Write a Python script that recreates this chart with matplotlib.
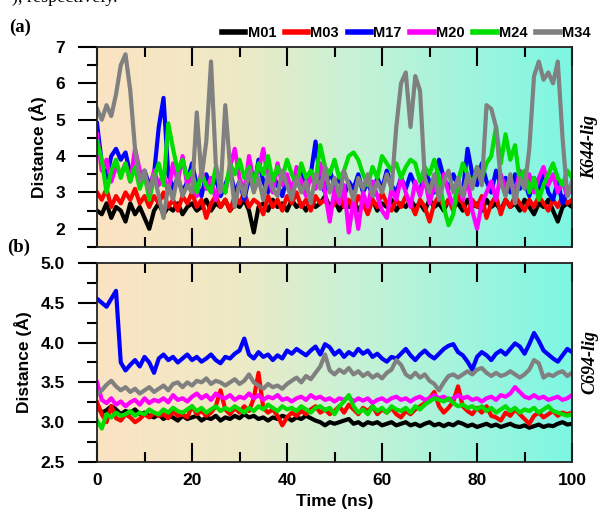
import numpy as np
import matplotlib.pyplot as plt
from matplotlib.colors import LinearSegmentedColormap
from matplotlib.ticker import MultipleLocator

# time axis, 1 ns steps
time_ns = np.arange(0, 101, 1)

names = ["M01", "M03", "M17", "M20", "M24", "M34"]
colors = ["#000000", "#ff0000", "#0000ff", "#ff00ff", "#00dd00", "#808080"]

# ---- panel (a): K644-lig ----
k644_m01 = [2.5, 2.4, 2.7, 2.3, 2.6, 2.5, 2.2, 2.7, 2.4, 2.6, 2.3, 2.0, 2.5, 2.7, 2.4, 2.6, 2.5, 2.7, 2.4, 2.6,
            2.7, 2.5, 2.6, 2.8, 2.5, 2.7, 2.6, 2.8, 2.5, 2.7, 2.6, 2.8, 2.5, 1.9, 2.6, 2.7, 2.5, 2.8, 2.6, 2.7,
            2.5, 2.8, 2.6, 2.7, 2.5, 2.8, 2.6, 2.7, 2.9, 2.6, 2.8, 2.5, 2.7, 2.6, 2.8, 2.5, 2.7, 2.6, 2.8, 2.5,
            2.7, 2.6, 2.8, 2.5, 2.7, 2.6, 2.8, 2.6, 2.7, 2.5, 2.8, 2.6, 2.7, 2.5, 2.8, 2.6, 2.7, 2.5, 2.8, 2.6,
            2.7, 2.5, 2.8, 2.6, 2.7, 2.5, 2.8, 2.6, 2.7, 2.5, 2.8, 2.6, 2.4, 2.7, 2.6, 2.8, 2.5, 2.2, 2.6, 2.7, 2.6]
k644_m03 = [3.0, 2.8, 3.1, 2.6, 2.9, 2.7, 3.0, 2.8, 3.1, 2.7, 2.9, 2.6, 2.9, 2.7, 3.0, 2.6, 2.8, 2.5, 2.9, 2.7,
            3.0, 2.6, 2.8, 2.3, 2.7, 2.9, 2.6, 2.8, 2.5, 2.9, 2.7, 3.0, 2.6, 2.8, 2.7, 2.4, 2.9, 2.6, 2.8, 2.5,
            2.9, 2.7, 3.0, 2.6, 2.8, 2.5, 2.9, 2.7, 2.8, 2.5, 2.7, 3.0, 2.6, 2.8, 2.5, 2.9, 2.7, 2.4, 2.8, 2.6,
            3.0, 2.7, 2.5, 2.8, 2.6, 2.9, 2.7, 2.4, 2.8, 2.6, 2.2, 2.7, 2.9, 2.6, 2.8, 2.5, 2.9, 2.7, 2.4, 2.8,
            2.6, 2.9, 2.3, 2.7, 2.9, 2.4, 2.8, 2.6, 2.9, 2.7, 2.5, 2.8, 2.6, 2.9, 2.7, 2.5, 2.8, 2.6, 2.9, 2.7, 2.8]
k644_m17 = [4.9, 3.8, 3.4, 4.0, 4.2, 3.9, 4.1, 3.5, 3.7, 3.3, 3.6, 3.2, 3.5, 4.8, 5.6, 3.5, 3.1, 3.4, 3.0, 3.3,
            3.8, 3.2, 2.9, 3.5, 3.1, 3.4, 2.9, 3.2, 3.6, 3.0, 3.3, 2.8, 3.4, 3.1, 3.9, 3.3, 3.0, 3.5, 3.2, 2.9,
            3.4, 3.0, 3.3, 3.7, 3.1, 3.5, 4.4, 3.3, 3.0, 3.6, 3.2, 3.4, 2.9, 3.3, 3.1, 3.5, 3.0, 3.3, 2.9, 3.4,
            3.1, 3.6, 3.2, 3.0, 3.4, 3.1, 3.5, 3.2, 3.0, 3.6, 3.3, 3.0, 3.9, 3.4, 3.1, 3.5, 3.2, 3.0, 4.2, 3.5,
            3.2, 3.8, 3.3, 3.0, 3.6, 3.2, 3.4, 3.0, 3.5, 3.1, 3.3, 2.9, 3.4, 3.1, 3.6, 3.0, 2.8, 3.3, 2.7, 3.0, 3.2]
k644_m20 = [4.6, 3.6, 3.9, 3.3, 3.7, 3.5, 3.8, 3.3, 4.2, 3.6, 3.4, 3.0, 3.6, 3.2, 3.5, 3.0, 3.8, 3.3, 4.0, 3.2,
            3.5, 2.9, 3.6, 3.1, 3.4, 2.8, 3.3, 3.0, 3.7, 4.2, 3.4, 3.0, 4.0, 3.3, 3.6, 4.2, 3.4, 3.0, 3.8, 3.2,
            3.5, 3.0, 3.7, 3.3, 2.9, 3.5, 3.1, 3.8, 3.0, 2.2, 3.1, 2.7, 3.2, 1.9, 2.8, 2.0, 3.0, 2.6, 3.3, 2.9,
            2.5, 2.3, 3.1, 2.8, 3.4, 3.0, 2.6, 3.3, 2.9, 3.4, 2.7, 3.2, 2.9, 3.5, 3.0, 2.6, 3.2, 2.8, 3.4, 2.5,
            2.0, 2.7, 3.0, 3.3, 2.8, 3.5, 3.1, 3.4, 2.9, 3.6, 3.2, 3.5, 3.0, 3.4, 3.7, 3.2, 3.5, 3.0, 3.3, 2.9, 3.2]
k644_m24 = [4.4, 3.9, 3.0, 3.6, 3.9, 3.4, 3.8, 3.3, 3.7, 3.1, 3.5, 2.8, 3.4, 3.8, 3.2, 4.9, 4.2, 3.6, 3.9, 3.4,
            3.6, 3.0, 3.5, 3.2, 3.0, 3.7, 3.3, 3.0, 3.8, 3.5, 3.9, 3.4, 3.7, 3.2, 3.8, 3.5, 4.0, 3.3, 3.7, 3.4,
            3.9, 3.5, 3.2, 3.8, 3.4, 3.6, 3.3, 4.3, 3.7, 3.5, 3.9, 3.4, 3.6, 4.0, 4.1, 3.9, 3.5, 3.2, 3.7, 3.4,
            4.0, 3.8, 3.6, 3.8, 3.4, 3.7, 3.9, 3.8, 3.3, 3.7, 3.5, 3.9, 3.4, 2.6, 2.1, 2.4, 3.3, 3.8, 3.5, 3.2,
            3.7, 3.4, 3.8, 4.0, 4.8, 3.8, 4.6, 3.9, 4.3, 3.3, 3.6, 3.0, 3.4, 2.8, 3.2, 3.5, 3.8, 3.4, 3.2, 3.6, 3.4]
k644_m34 = [5.3, 5.0, 5.4, 5.1, 5.7, 6.5, 6.8, 5.8, 4.2, 3.3, 3.6, 3.0, 3.5, 2.9, 2.3, 3.2, 2.8, 3.5, 2.9, 3.2,
            3.0, 5.2, 3.4, 4.4, 6.6, 3.8, 3.0, 5.4, 3.7, 2.6, 3.3, 2.9, 3.6, 3.0, 3.4, 2.8, 3.5, 3.1, 2.9, 3.6,
            3.2, 2.8, 3.4, 3.0, 3.3, 2.7, 3.5, 3.1, 3.7, 3.0, 3.4, 2.9, 3.6, 3.2, 2.8, 3.4, 3.1, 3.5, 2.9, 3.3,
            3.0, 3.5, 3.1, 4.8, 6.0, 6.3, 4.8, 6.2, 5.8, 3.4, 3.0, 3.5, 2.8, 3.3, 3.6, 3.0, 3.4, 2.9, 3.5, 3.1,
            3.7, 3.2, 5.4, 5.3, 4.8, 3.3, 2.9, 3.5, 2.7, 3.4, 3.1, 4.2, 6.2, 6.6, 6.1, 6.3, 6.0, 6.6, 4.5, 2.9, 3.3]

# ---- panel (b): C694-lig ----
c694_m01 = [3.2, 3.12, 3.15, 3.2, 3.16, 3.1, 3.14, 3.12, 3.16, 3.1, 3.12, 3.08, 3.06, 3.1, 3.04, 3.08, 3.06, 3.02, 3.08, 3.04,
            3.06, 3.08, 3.02, 3.06, 3.04, 3.08, 3.02, 3.06, 3.04, 3.08, 3.05, 3.1, 3.06, 3.08, 3.04, 3.06, 3.02, 3.06, 3.04, 3.08,
            3.06, 3.02, 3.06, 3.04, 3.08, 3.05, 3.02, 3.0, 2.96, 3.0, 2.98, 3.0, 3.02, 3.04, 2.98, 3.0, 2.96, 3.0, 2.98, 3.0,
            2.96, 2.98, 3.0, 2.96, 2.98, 3.0, 2.96, 2.98, 2.95, 2.98, 3.0, 2.96, 2.98, 2.95, 2.98, 2.96, 3.0, 2.98, 2.95, 2.97,
            2.94, 2.96, 2.98, 2.95, 2.97, 2.94, 2.96, 2.98, 2.95, 2.94, 2.96, 2.93, 2.95, 2.97, 2.94, 2.96, 2.95, 2.98, 3.0, 2.97, 2.98]
c694_m03 = [3.25, 3.1, 3.0, 3.2, 3.05, 3.02, 3.1, 3.06, 3.0, 3.04, 3.1, 3.06, 3.12, 3.08, 3.1, 3.05, 3.14, 3.08, 3.1, 3.06,
            3.2, 3.1, 3.14, 3.08, 3.12, 3.2, 3.4, 3.16, 3.1, 3.18, 3.12, 3.2, 3.14, 3.3, 3.62, 3.18, 3.12, 3.16, 3.08, 2.96,
            3.06, 3.12, 3.08, 3.14, 3.1, 3.16, 3.2, 3.12, 3.16, 3.1, 3.14, 3.2, 3.12, 3.22, 3.16, 3.1, 3.18, 3.14, 3.2, 3.1,
            3.16, 3.12, 3.18, 3.1, 3.06, 3.14, 3.1, 3.16, 3.2, 3.24, 3.3, 3.38, 3.2, 3.12, 3.18, 3.26, 3.45, 3.2, 3.14, 3.1,
            3.18, 3.12, 3.2, 3.08, 3.06, 3.02, 3.12, 3.08, 3.16, 3.1, 3.04, 2.98, 3.08, 3.12, 3.06, 3.1, 3.14, 3.08, 3.12, 3.1, 3.12]
c694_m17 = [4.55, 4.5, 4.45, 4.55, 4.65, 3.75, 3.65, 3.72, 3.78, 3.7, 3.82, 3.75, 3.62, 3.8, 3.85, 3.78, 3.82, 3.75, 3.8, 3.85,
            3.78, 3.82, 3.76, 3.8, 3.85, 3.78, 3.74, 3.82, 3.8, 3.86, 3.9, 4.05, 3.85, 3.8, 3.88, 3.82, 3.85, 3.78, 3.84, 3.8,
            3.9, 3.86, 3.92, 3.88, 3.84, 3.9, 3.95, 3.85, 3.98, 3.94, 3.85, 3.9, 3.82, 3.88, 3.84, 3.92, 3.86, 3.9, 3.82, 3.86,
            3.8, 3.76, 3.82, 3.8, 3.86, 3.92, 3.84, 3.78, 3.85, 3.9, 3.84, 3.8, 3.86, 3.92, 3.96, 3.98, 3.88, 3.84, 3.76, 3.66,
            3.82, 3.88, 3.84, 3.78, 3.86, 3.9, 3.85, 3.92, 3.99, 3.95, 3.86, 3.98, 4.12, 4.02, 3.9, 3.85, 3.8, 3.76, 3.84, 3.92, 3.88]
c694_m20 = [3.5, 3.28, 3.24, 3.3, 3.22, 3.26, 3.2, 3.25, 3.28, 3.22, 3.3, 3.24, 3.28, 3.26, 3.3, 3.25, 3.34, 3.28, 3.3, 3.26,
            3.32, 3.36, 3.3, 3.34, 3.28, 3.36, 3.32, 3.3, 3.34, 3.28, 3.32, 3.3, 3.36, 3.3, 3.34, 3.28, 3.32, 3.3, 3.34, 3.28,
            3.3, 3.26, 3.3, 3.32, 3.28, 3.34, 3.3, 3.32, 3.28, 3.3, 3.26, 3.3, 3.28, 3.32, 3.26, 3.3, 3.27, 3.3, 3.24, 3.28,
            3.3, 3.26, 3.3, 3.32, 3.28, 3.3, 3.26, 3.3, 3.32, 3.28, 3.3, 3.34, 3.3, 3.32, 3.28, 3.3, 3.34, 3.3, 3.32, 3.28,
            3.3, 3.26, 3.3, 3.32, 3.28, 3.34, 3.32, 3.36, 3.44, 3.38, 3.32, 3.3, 3.34, 3.3, 3.32, 3.28, 3.3, 3.32, 3.28, 3.3, 3.34]
c694_m24 = [3.02, 2.92, 3.1, 3.06, 3.12, 3.08, 3.1, 3.14, 3.08, 3.12, 3.1, 3.16, 3.12, 3.1, 3.16, 3.12, 3.18, 3.14, 3.12, 3.16,
            3.2, 3.14, 3.18, 3.12, 3.16, 3.2, 3.14, 3.18, 3.15, 3.2, 3.16, 3.12, 3.18, 3.14, 3.2, 3.16, 3.22, 3.18, 3.14, 3.2,
            3.16, 3.18, 3.14, 3.2, 3.16, 3.12, 3.18, 3.2, 3.15, 3.18, 3.1, 3.2, 3.26, 3.34, 3.2, 3.12, 3.16, 3.1, 3.2, 3.14,
            3.18, 3.12, 3.2, 3.16, 3.14, 3.18, 3.12, 3.2, 3.16, 3.22, 3.26, 3.3, 3.28, 3.26, 3.3, 3.24, 3.2, 3.22, 3.18, 3.2,
            3.16, 3.2, 3.14, 3.18, 3.12, 3.16, 3.2, 3.14, 3.18, 3.12, 3.16, 3.14, 3.18, 3.12, 3.16, 3.2, 3.14, 3.12, 3.1, 3.08, 3.1]
c694_m34 = [3.35, 3.4, 3.47, 3.52, 3.45, 3.4, 3.44, 3.38, 3.42, 3.36, 3.4, 3.44, 3.38, 3.42, 3.46, 3.4, 3.48, 3.5, 3.44, 3.5,
            3.46, 3.52, 3.5, 3.55, 3.48, 3.52, 3.5, 3.46, 3.5, 3.54, 3.48, 3.52, 3.6, 3.5, 3.46, 3.42, 3.48, 3.44, 3.46, 3.42,
            3.48, 3.52, 3.56, 3.5, 3.58, 3.54, 3.62, 3.7, 3.85, 3.65, 3.6, 3.66, 3.62, 3.68, 3.6, 3.64, 3.58, 3.62, 3.56, 3.6,
            3.55, 3.62, 3.66, 3.78, 3.72, 3.6, 3.56, 3.62, 3.56, 3.6, 3.52, 3.48, 3.4, 3.5, 3.58, 3.6, 3.56, 3.6, 3.64, 3.6,
            3.66, 3.68, 3.62, 3.58, 3.62, 3.58, 3.6, 3.64, 3.6, 3.56, 3.6, 3.66, 3.78, 3.74, 3.56, 3.6, 3.58, 3.62, 3.64, 3.58, 3.62]

panel_a = [k644_m01, k644_m03, k644_m17, k644_m20, k644_m24, k644_m34]
panel_b = [c694_m01, c694_m03, c694_m17, c694_m20, c694_m24, c694_m34]

bg = LinearSegmentedColormap.from_list(
    "bg", [(0.0, "#fbe3c2"), (0.3, "#eeeac6"), (0.55, "#c6f2d6"), (1.0, "#7cf7e3")])

fig = plt.figure(figsize=(6, 5.12), dpi=100)
ax_a = fig.add_axes([0.1617, 0.5176, 0.7917, 0.3906])
ax_b = fig.add_axes([0.1617, 0.0977, 0.7917, 0.3887])

tick_font = dict(family="Liberation Sans", weight="bold", size=12.5)


def style_axis(ax, ylim, major, minor, show_xlabels):
    ax.imshow(np.linspace(0, 1, 256)[None, :], aspect="auto", cmap=bg,
              extent=[0, 100, ylim[0], ylim[1]], zorder=0)
    ax.set_xlim(0, 100)
    ax.set_ylim(*ylim)
    ax.xaxis.set_major_locator(MultipleLocator(20))
    ax.xaxis.set_minor_locator(MultipleLocator(10))
    ax.yaxis.set_major_locator(MultipleLocator(major))
    ax.yaxis.set_minor_locator(MultipleLocator(minor))
    ax.tick_params(axis="x", which="both", direction="in", top=True, bottom=True,
                   width=1.5, color="black")
    ax.tick_params(axis="x", which="major", length=14)
    ax.tick_params(axis="x", which="minor", length=7)
    ax.tick_params(axis="y", which="both", direction="out", left=True, right=False,
                   width=1.5, color="black", pad=9)
    ax.tick_params(axis="y", which="major", length=14)
    ax.tick_params(axis="y", which="minor", length=7)
    for sp in ax.spines.values():
        sp.set_linewidth(1.3)
        sp.set_color("#222222")
    if show_xlabels:
        ax.tick_params(axis="x", which="major", pad=8)
    else:
        ax.tick_params(axis="x", which="both", labelbottom=False)
    ax.set_ylabel("Distance (Å)", fontfamily="Liberation Sans", fontweight="bold",
                  fontsize=12.5, labelpad=6)


lines = []
for vals, name, c in zip(panel_a, names, colors):
    ln, = ax_a.plot(time_ns, vals, color=c, lw=3.0, label=name, solid_joinstyle="round")
    lines.append(ln)
for vals, name, c in zip(panel_b, names, colors):
    ax_b.plot(time_ns, vals, color=c, lw=3.0, solid_joinstyle="round")

style_axis(ax_a, (1.5, 7.0), 1, 0.5, False)
ax_a.yaxis.set_major_locator(MultipleLocator(1, offset=0))
ax_a.set_yticks([2, 3, 4, 5, 6, 7])
style_axis(ax_b, (2.5, 5.0), 0.5, 0.25, True)
ax_b.yaxis.set_major_formatter("{x:.1f}")
for ax in (ax_a, ax_b):
    for lab in ax.get_yticklabels() + ax.get_xticklabels():
        lab.set(**tick_font)
ax_b.set_xlabel("Time (ns)", fontfamily="Liberation Sans", fontweight="bold",
                fontsize=12.5, labelpad=4)

fig.legend(handles=lines, labels=names, ncol=6, loc="center",
           bbox_to_anchor=(0.677, 0.936), frameon=False, handlelength=1.6,
           handletextpad=0.15, columnspacing=0.6, borderaxespad=0,
           prop=dict(family="Liberation Sans", weight="bold", size=10.5))
for lh in fig.legends[0].get_lines():
    lh.set_linewidth(4)

fig.text(0.015, 0.947, "(a)", fontfamily="Liberation Serif", fontweight="bold", fontsize=13.5,
         va="center", ha="left")
fig.text(0.012, 0.516, "(b)", fontfamily="Liberation Serif", fontweight="bold", fontsize=13.5,
         va="center", ha="left")
fig.text(0.983, 0.713, "K644-lig", fontfamily="Liberation Serif", fontweight="bold",
         fontstyle="italic", fontsize=13, rotation=90, va="center", ha="center")
fig.text(0.983, 0.292, "C694-lig", fontfamily="Liberation Serif", fontweight="bold",
         fontstyle="italic", fontsize=13, rotation=90, va="center", ha="center")
# cropped caption line from the page above the figure
fig.text(0.02, 1.005, "), respectively.", fontfamily="Liberation Serif", fontsize=13,
         va="center", ha="left")

fig.savefig("out.png", dpi=100)
